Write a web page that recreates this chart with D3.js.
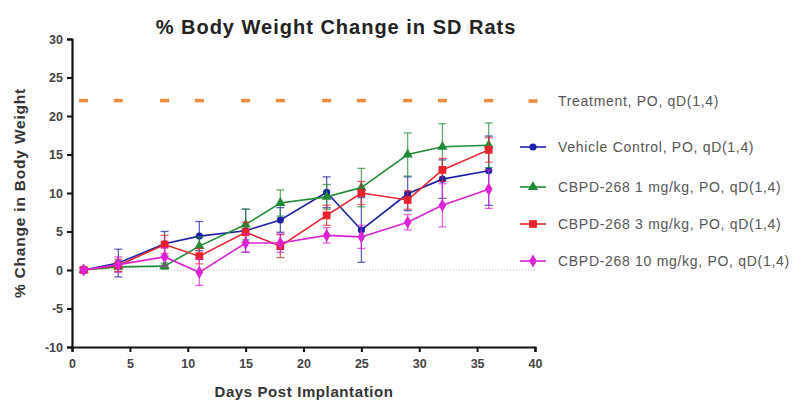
<!DOCTYPE html>
<html>
<head>
<meta charset="utf-8">
<script src="https://cdn.jsdelivr.net/npm/d3@7"></script>
<style>
  body { margin: 0; background: #fff; }
  svg { font-family: Arial, "Liberation Sans", sans-serif; }
</style>
</head>
<body>
<svg id="chart" width="808" height="402"></svg>
<script>
// measurement days
var days = [1, 4, 8, 11, 15, 18, 22, 25, 29, 32, 36];
// % change in body weight, mean and error (SEM) per group
var vehicleMean = [0, 0.9, 3.4, 4.4, 5.1, 6.5, 10.1, 5.2, 9.9, 11.8, 12.9];
var vehicleErr  = [0.3, 1.8, 1.6, 1.9, 2.8, 1.6, 2.0, 4.2, 2.2, 2.5, 4.5];
var mg1Mean = [0, 0.4, 0.5, 3.1, 5.9, 8.7, 9.5, 10.7, 15.0, 16.0, 16.2];
var mg1Err  = [0.3, 0.6, 0.4, 1.2, 2.0, 1.7, 1.6, 2.5, 2.8, 3.0, 2.9];
var mg3Mean = [0, 0.6, 3.3, 1.8, 4.9, 3.1, 7.1, 10.0, 9.1, 13.0, 15.6];
var mg3Err  = [0.3, 0.8, 1.2, 1.0, 1.3, 1.5, 1.3, 1.5, 1.2, 1.5, 1.6];
var mg10Mean = [0, 0.7, 1.7, -0.3, 3.5, 3.5, 4.5, 4.3, 6.2, 8.4, 10.5];
var mg10Err  = [0.3, 1.0, 1.2, 1.7, 1.2, 1.2, 1.0, 1.5, 1.0, 2.8, 2.5];
// treatment dosing marks
var treatDays = [1, 4, 8, 11, 15, 18, 22, 25, 29, 32, 36];
var treatLevel = 22;
var xTicks = [0, 5, 10, 15, 20, 25, 30, 35, 40];
var yTicks = [-10, -5, 0, 5, 10, 15, 20, 25, 30];

var series = [
    {name: "Vehicle Control, PO, qD(1,4)", mean: vehicleMean, err: vehicleErr, color: "#1c20a8", symbol: d3.symbolCircle, size: 40},
    {name: "CBPD-268 1 mg/kg, PO, qD(1,4)", mean: mg1Mean, err: mg1Err, color: "#1f8c35", symbol: d3.symbolTriangle, size: 45},
    {name: "CBPD-268 3 mg/kg, PO, qD(1,4)", mean: mg3Mean, err: mg3Err, color: "#e8232d", symbol: d3.symbolSquare, size: 60},
    {name: "CBPD-268 10 mg/kg, PO, qD(1,4)", mean: mg10Mean, err: mg10Err, color: "#dc22d4", symbol: d3.symbolDiamond, size: 50}
];

var svg = d3.select("#chart");
var x = d3.scaleLinear().domain([0, 40]).range([72, 535]);
var y = d3.scaleLinear().domain([-10, 30]).range([347, 39]);

// title
svg.append("text")
    .attr("x", 336).attr("y", 34)
    .attr("text-anchor", "middle")
    .attr("font-size", 20).attr("font-weight", "bold")
    .attr("letter-spacing", 1)
    .attr("fill", "#222")
    .text("% Body Weight Change in SD Rats");

// zero reference line
svg.append("line")
    .attr("x1", x(0)).attr("x2", x(40))
    .attr("y1", y(0)).attr("y2", y(0))
    .attr("stroke", "#bbb").attr("stroke-width", 1)
    .attr("stroke-dasharray", "1,2");

// treatment dashes
svg.append("g").selectAll("line")
    .data(treatDays)
    .enter().append("line")
    .attr("x1", function (d) { return x(d) - 4.5; })
    .attr("x2", function (d) { return x(d) + 4.5; })
    .attr("y1", y(treatLevel)).attr("y2", y(treatLevel))
    .attr("stroke", "#f08a3c").attr("stroke-width", 3.5);

// axes
var fmt = function (d) { return String(d); };
var yAxis = svg.append("g")
    .attr("transform", "translate(" + x(0) + ",0)")
    .call(d3.axisLeft(y).tickValues(yTicks).tickFormat(fmt).tickSize(5).tickPadding(4));
var xAxis = svg.append("g")
    .attr("transform", "translate(0," + y(-10) + ")")
    .call(d3.axisBottom(x).tickValues(xTicks).tickFormat(fmt).tickSize(5).tickPadding(7));
[xAxis, yAxis].forEach(function (a) {
    a.select(".domain").attr("stroke", "#111").attr("stroke-width", 2.2);
    a.selectAll(".tick line").attr("stroke", "#111").attr("stroke-width", 2);
    a.selectAll(".tick text")
        .attr("fill", "#444").attr("font-size", 12.5).attr("font-weight", "bold")
        .attr("font-family", "Arial, sans-serif");
});

// axis titles
svg.append("text")
    .attr("x", 304).attr("y", 397)
    .attr("text-anchor", "middle")
    .attr("font-size", 15).attr("font-weight", "bold").attr("fill", "#333")
    .attr("letter-spacing", 0.6)
    .text("Days Post Implantation");
svg.append("text")
    .attr("transform", "translate(25," + y(10) + ") rotate(-90)")
    .attr("text-anchor", "middle")
    .attr("font-size", 15.5).attr("font-weight", "bold").attr("fill", "#333")
    .attr("letter-spacing", 0.8)
    .text("% Change in Body Weight");

// series
var line = d3.line()
    .x(function (d) { return x(d.day); })
    .y(function (d) { return y(d.v); });

series.forEach(function (s) {
    var pts = days.map(function (d, i) { return {day: d, v: s.mean[i], e: s.err[i]}; });
    var g = svg.append("g");
    // error bars
    var eb = g.selectAll(".eb").data(pts).enter().append("g")
        .attr("stroke", s.color).attr("stroke-opacity", 0.7).attr("stroke-width", 1.3);
    eb.append("line")
        .attr("x1", function (d) { return x(d.day); })
        .attr("x2", function (d) { return x(d.day); })
        .attr("y1", function (d) { return y(d.v - d.e); })
        .attr("y2", function (d) { return y(d.v + d.e); });
    eb.append("line")
        .attr("x1", function (d) { return x(d.day) - 4; })
        .attr("x2", function (d) { return x(d.day) + 4; })
        .attr("y1", function (d) { return y(d.v + d.e); })
        .attr("y2", function (d) { return y(d.v + d.e); });
    eb.append("line")
        .attr("x1", function (d) { return x(d.day) - 4; })
        .attr("x2", function (d) { return x(d.day) + 4; })
        .attr("y1", function (d) { return y(d.v - d.e); })
        .attr("y2", function (d) { return y(d.v - d.e); });
    g.append("path")
        .datum(pts)
        .attr("fill", "none")
        .attr("stroke", s.color).attr("stroke-width", 1.6)
        .attr("d", line);
    g.selectAll(".pt").data(pts).enter().append("path")
        .attr("transform", function (d) { return "translate(" + x(d.day) + "," + y(d.v) + ")"; })
        .attr("d", d3.symbol().type(s.symbol).size(s.size))
        .attr("fill", s.color);
});

// legend
var legendY = [101, 147, 187, 224, 261];
var legend = svg.append("g");
var lg0 = legend.append("g").attr("transform", "translate(533," + legendY[0] + ")");
lg0.append("line").attr("x1", -4.5).attr("x2", 4.5)
    .attr("stroke", "#f08a3c").attr("stroke-width", 3.5);
lg0.append("text").attr("x", 25).attr("dy", "0.35em")
    .attr("font-size", 14).attr("letter-spacing", 0.7).attr("fill", "#555")
    .text("Treatment, PO, qD(1,4)");

series.forEach(function (s, i) {
    var lg = legend.append("g").attr("transform", "translate(533," + legendY[i + 1] + ")");
    lg.append("line").attr("x1", -13).attr("x2", 13)
        .attr("stroke", s.color).attr("stroke-width", 1.6);
    lg.append("path")
        .attr("d", d3.symbol().type(s.symbol).size(s.size))
        .attr("fill", s.color);
    lg.append("text").attr("x", 25).attr("dy", "0.35em")
        .attr("font-size", 14).attr("letter-spacing", 0.7).attr("fill", "#555")
        .text(s.name);
});
</script>
</body>
</html>
